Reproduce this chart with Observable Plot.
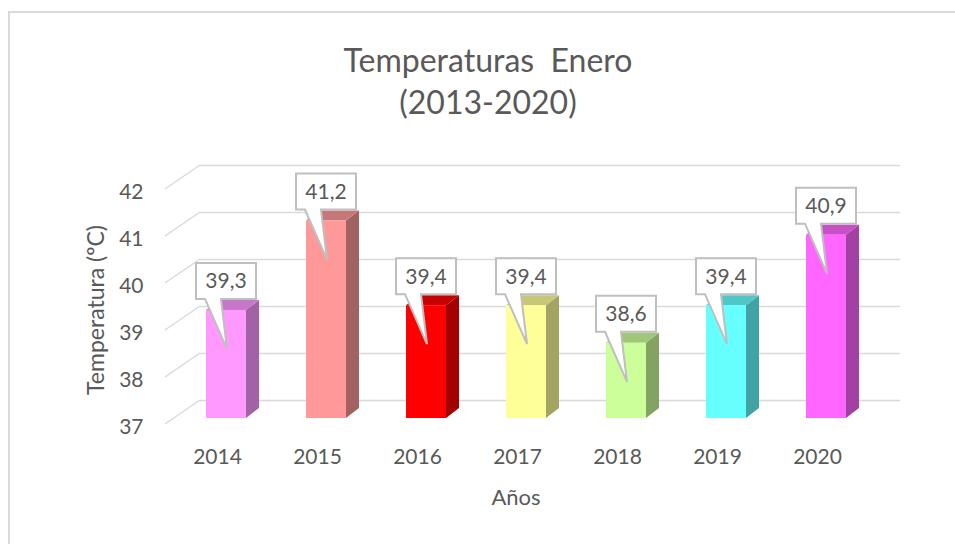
<!DOCTYPE html>
<html><head><meta charset="utf-8">
<script src="https://cdn.jsdelivr.net/npm/d3@7"></script>
<script src="https://cdn.jsdelivr.net/npm/@observablehq/plot@0.6"></script>
<style>
body{margin:0;background:#fff;}
#wrap{position:relative;width:955px;height:544px;overflow:hidden;font-family:Lato,sans-serif;color:#595959;background:#fff;}
#frame{position:absolute;left:8px;top:11px;width:1000px;height:600px;border-top:2px solid #d9d9d9;border-left:2px solid #d9d9d9;}
#chart{position:absolute;left:0;top:0;}
#title{position:absolute;left:0;width:976px;top:39px;text-align:center;font-size:32px;line-height:42px;}
#ytitle{position:absolute;left:95px;top:310px;transform:translate(-50%,-50%) rotate(-90deg);font-size:23px;white-space:nowrap;}
#xtitle{position:absolute;left:516px;top:496px;transform:translate(-50%,-50%);font-size:22px;white-space:nowrap;}
</style></head><body>
<div id="wrap">
  <div id="frame"></div>
  <div id="chart"></div>
  <div id="title">Temperaturas&nbsp; Enero<br>(2013-2020)</div>
  <div id="ytitle">Temperatura (ºC)</div>
  <div id="xtitle">Años</div>
</div>
<script>
// ---- data ----
const years = ["2014", "2015", "2016", "2017", "2018", "2019", "2020"];
const temps = [39.3, 41.2, 39.4, 39.4, 38.6, 39.4, 40.9];
const valueLabels = ["39,3", "41,2", "39,4", "39,4", "38,6", "39,4", "40,9"];
const barColors = ["#FF99FF", "#FF9999", "#FF0000", "#FFFF99", "#CCFF99", "#66FFFF", "#FF66FF"];
const yTicks = [37, 38, 39, 40, 41, 42];
const baseline = 37;

const data = years.map((year, i) => ({year, temp: temps[i], label: valueLabels[i], color: barColors[i]}));

// ---- 3D look (pixel offsets) ----
const FRONT_DY = 18;   // front plane below back wall
const DEPTH_X = 13, DEPTH_Y = 10; // bar depth
const WALL_DX = 24;    // back wall shift
const SIDE_X = 11, SIDE_Y = 24; // side wall diagonal
const shade = (c, k) => { const r = d3.rgb(c); return d3.rgb(r.r * k, r.g * k, r.b * k).formatHex(); };

function sideWall(index, {y}, values, {marginLeft}) {
  const g = d3.create("svg:g").attr("stroke", "#d9d9d9").attr("stroke-width", 1.5);
  for (const t of yTicks) {
    g.append("line")
      .attr("x1", marginLeft - SIDE_X).attr("y1", y(t) + SIDE_Y)
      .attr("x2", marginLeft + WALL_DX).attr("y2", y(t));
  }
  return g.node();
}

function barDepth(index, {x, y}) {
  const g = d3.create("svg:g");
  const bw = x.bandwidth();
  for (const d of data) {
    const x0 = x(d.year), x1 = x0 + bw;
    const yb = y(baseline) + FRONT_DY, yt = y(d.temp) + FRONT_DY;
    g.append("path")
      .attr("d", `M${x1},${yb}L${x1 + DEPTH_X},${yb - DEPTH_Y}L${x1 + DEPTH_X},${yt - DEPTH_Y}L${x1},${yt}Z`)
      .attr("fill", shade(d.color, 0.64));
    g.append("path")
      .attr("d", `M${x0},${yt}L${x1},${yt}L${x1 + DEPTH_X},${yt - DEPTH_Y}L${x0 + DEPTH_X},${yt - DEPTH_Y}Z`)
      .attr("fill", shade(d.color, 0.78));
  }
  return g.node();
}

function callouts(index, {x, y}) {
  const g = d3.create("svg:g");
  const bw = x.bandwidth();
  for (const d of data) {
    const cx = x(d.year) + bw / 2;
    const ft = y(d.temp) + FRONT_DY;
    const top = ft - 47, bot = ft - 11, tip = ft + 39;
    const l = cx - 30, r = cx + 30;
    g.append("path")
      .attr("d", `M${l},${top}L${r},${top}L${r},${bot}L${cx - 5},${bot}L${cx + 1},${tip}L${cx - 21},${bot}L${l},${bot}Z`)
      .attr("fill", "#fff").attr("stroke", "#bfbfbf").attr("stroke-width", 2).attr("stroke-linejoin", "miter");
    g.append("text")
      .attr("x", cx).attr("y", (top + bot) / 2)
      .attr("text-anchor", "middle").attr("dy", "0.35em")
      .attr("font-size", 21).attr("fill", "#595959")
      .text(d.label);
  }
  return g.node();
}

const chart = Plot.plot({
  width: 955,
  height: 544,
  marginLeft: 176,
  marginRight: 79,
  marginTop: 165,
  marginBottom: 144,
  style: {fontFamily: "Lato, sans-serif", fontSize: "21px", color: "#595959", background: "transparent"},
  x: {domain: years, paddingInner: 0.6, paddingOuter: 0.3, axis: null},
  y: {domain: [37, 42], axis: null},
  color: {type: "identity"},
  marks: [
    Plot.ruleY(yTicks, {stroke: "#d9d9d9", strokeWidth: 1.5, dx: WALL_DX}),
    sideWall,
    barDepth,
    Plot.barY(data, {x: "year", y1: d => baseline, y2: "temp", fill: "color", dy: FRONT_DY}),
    callouts,
    Plot.text(yTicks, {y: d => d, text: d => String(d), frameAnchor: "left", textAnchor: "end", dx: -33, dy: 27, fill: "#595959", fontSize: 21}),
    Plot.text(data, {x: "year", text: "year", frameAnchor: "bottom", dy: 63, dx: -9, fill: "#595959", fontSize: 21})
  ]
});
document.getElementById("chart").appendChild(chart);
</script>
</body></html>
